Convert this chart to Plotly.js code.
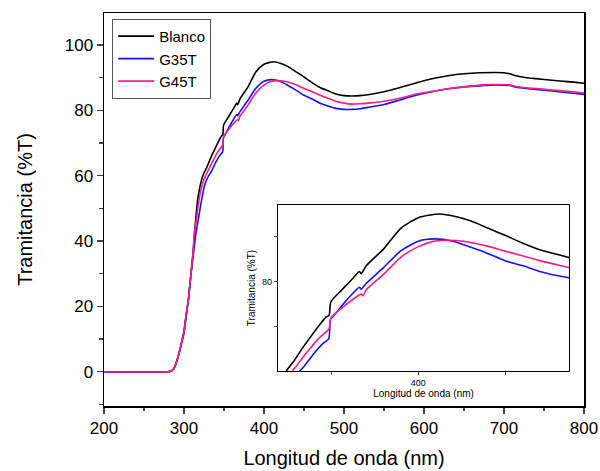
<!DOCTYPE html>
<html>
<head>
<meta charset="utf-8">
<script src="https://cdn.plot.ly/plotly-3.0.1.min.js"></script>
<style>html,body{margin:0;padding:0;background:#fff}#chart{width:600px;height:471px}</style>
</head>
<body>
<div id="chart"></div>
<script>
// Blanco
const blancoX = [200,280,284,287,290,293,296,300,303,305.5,307.5,309.6,311.5,313,315,317,319,321,324,328,333,340,347,348.5,349.5,356,362,366,367,370,380,390,400,412,422,430,440,450,460,470,480,490,500,510,520,530,550,570,590,610,630,650,670,690,700,707,715,728,740,760,780,800];
const blancoY = [0,0,0.2,0.8,2.5,5,8,12.5,18,22,27,32,37,42,47.5,52.5,55.5,57.8,60.3,62.3,65.2,68.9,72.2,72.5,75.5,78.2,80.6,82.2,81.7,83.5,87.2,91.8,94.1,94.9,94.3,93.4,91.8,90.2,88.5,87.0,86.0,85.0,84.5,84.4,84.5,84.8,85.7,87.0,88.4,89.7,90.6,91.2,91.5,91.6,91.5,91.2,90.6,90.0,89.7,89.2,88.8,88.3];
// G35T
const g35X = [200,280,284,287,290,293,296,300,303,305.5,307.5,309.6,312.5,315,318.5,322,326,330,334,340,345,348.3,349.3,352,358,366,367,370,380,390,400,409,420,430,440,450,460,470,480,490,500,510,520,530,550,570,590,610,630,650,675,690,707,715,728,757,780,800];
const g35Y = [0,0,0.2,0.8,2.4,4.8,7.7,11.8,17.5,22,27,32,37.5,42.4,47.5,52.6,57.2,59.6,61.2,64.2,66.3,67.3,71.6,72.8,75.6,78.7,78.3,79.6,83.1,86.8,88.9,89.4,88.9,87.6,86.2,84.6,83.5,82.2,81.3,80.6,80.3,80.3,80.5,80.9,81.8,83.2,84.6,85.7,86.6,87.2,87.6,87.8,87.6,87.1,86.7,86.0,85.4,84.9];
// G45T
const g45X = [200,280,284,287,290,293,296,300,303,305.5,307.5,309.6,311.5,313,316,318.8,321,323.3,327,330,335,342,347,348.5,349.5,358,367,368,370,380,390,400,408,416,426,440,450,460,470,480,490,500,510,520,530,550,570,590,610,630,650,675,690,707,715,728,757,780,800];
const g45Y = [0,0,0.2,0.8,2.5,5,8,12.2,18,22,27,32,37,42.4,47.5,52.6,55.5,57.7,60,61.5,64,67.2,68.9,69.5,71.9,74.8,77.2,76.8,78.2,81.6,85.4,87.7,88.8,89.1,88.9,87.8,86.7,85.7,84.6,83.7,82.8,82.2,81.9,82.0,82.2,82.8,83.7,85.0,85.8,86.6,87.2,87.8,87.9,87.8,87.3,86.9,86.3,85.8,85.3];

const names = ['Blanco','G35T','G45T'];
const colors = ['#000000','#1414ff','#ff1a85'];
const xs = [blancoX, g35X, g45X];
const ys = [blancoY, g35Y, g45Y];

const traces = [];
for (let i = 0; i < 3; i++) {
  traces.push({x: xs[i], y: ys[i], name: names[i], type: 'scatter', mode: 'lines',
    line: {color: colors[i], width: 1.6, shape: 'spline', smoothing: 0.6}, xaxis: 'x', yaxis: 'y'});
}
for (let i = 0; i < 3; i++) {
  traces.push({x: xs[i], y: ys[i], name: names[i], type: 'scatter', mode: 'lines', showlegend: false,
    line: {color: colors[i], width: 1.6, shape: 'spline', smoothing: 0.6}, xaxis: 'x2', yaxis: 'y2'});
}

const font = 'Liberation Sans, Arial, sans-serif';
const layout = {
  width: 600, height: 471,
  margin: {l: 104, r: 16, t: 13, b: 65},
  paper_bgcolor: '#fff', plot_bgcolor: '#fff',
  font: {family: font, color: '#000'},
  showlegend: true,
  legend: {x: 0.017, y: 0.985, xanchor: 'left', yanchor: 'top', bgcolor: '#fff',
    bordercolor: '#555', borderwidth: 1, font: {size: 15, family: font}, itemwidth: 36,
    tracegroupgap: 0},
  xaxis: {domain: [0, 1], range: [200, 800], dtick: 100, tick0: 0, ticks: 'outside', ticklen: 6, tickwidth: 1.5,
    showline: true, linewidth: 1.5, linecolor: '#000', mirror: true, showgrid: false, zeroline: false,
    tickfont: {size: 17}, minor: {dtick: 50, ticklen: 3.5, tickwidth: 1.2, ticks: 'outside', showgrid: false},
    title: {text: 'Longitud de onda (nm)', font: {size: 20}, standoff: 14}},
  yaxis: {domain: [0, 1], range: [-10.5, 109.8], dtick: 20, tick0: 0, ticks: 'outside', ticklen: 6, tickwidth: 1.5,
    showline: true, linewidth: 1.5, linecolor: '#000', mirror: true, showgrid: false, zeroline: false,
    tickfont: {size: 17}, minor: {dtick: 10, ticklen: 3.5, tickwidth: 1.2, ticks: 'outside', showgrid: false},
    title: {text: 'Tramitancia (%T)', font: {size: 20}, standoff: 26}},
  xaxis2: {domain: [0.3625, 0.969], anchor: 'y2', range: [319, 487], dtick: 100, tick0: 0, ticks: 'outside',
    ticklen: 3, tickwidth: 1, showline: true, linewidth: 1.2, linecolor: '#000', mirror: true, showgrid: false,
    zeroline: false, tickfont: {size: 9}, minor: {dtick: 50, ticklen: 3, tickwidth: 1, ticks: 'outside', showgrid: false},
    title: {text: 'Longitud de onda (nm)', font: {size: 10}, standoff: 2}},
  yaxis2: {domain: [0.089, 0.5115], anchor: 'x2', range: [60.2, 96.9], dtick: 20, tick0: 0, ticks: 'outside',
    ticklen: 3, tickwidth: 1, showline: true, linewidth: 1.2, linecolor: '#000', mirror: true, showgrid: false,
    zeroline: false, tickfont: {size: 9}, minor: {dtick: 10, ticklen: 3, tickwidth: 1, ticks: 'outside', showgrid: false},
    title: {text: 'Tramitancia (%T)', font: {size: 10}, standoff: 4}}
};
Plotly.newPlot('chart', traces, layout, {staticPlot: true, displayModeBar: false});
</script>
</body>
</html>
